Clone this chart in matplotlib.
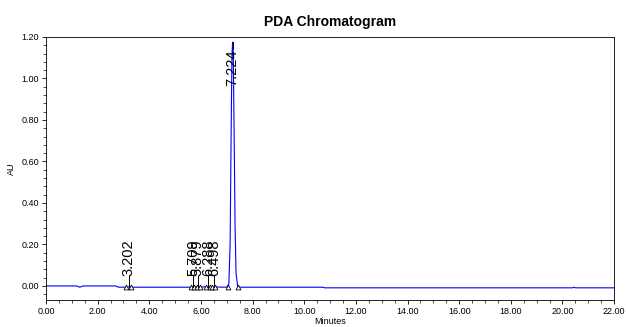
import numpy as np
import matplotlib.pyplot as plt
from matplotlib.ticker import MultipleLocator, FormatStrFormatter

plt.rcParams['font.family'] = ['Liberation Sans', 'DejaVu Sans']

# trace (minutes, AU)
t = [0.0, 1.2, 1.3, 1.35, 1.45, 1.6, 2.7, 2.8, 3.15, 3.2, 3.25, 5.7, 5.8, 5.88, 6.29, 6.49,
     7.0, 7.08, 7.13, 7.17, 7.2, 7.224, 7.25, 7.28, 7.32, 7.36, 7.42, 7.5, 10.7, 10.8,
     20.4, 20.45, 20.5, 20.6, 22.0]
au = [0.0, 0.0, -0.006, -0.004, 0.0, 0.0, 0.0, -0.006, -0.006, -0.004, -0.006, -0.006, -0.005,
      -0.005, -0.005, -0.005, -0.006, 0.01, 0.2, 0.75, 1.1, 1.175, 1.12, 0.8, 0.3, 0.06, 0.0,
      -0.006, -0.006, -0.009, -0.009, -0.006, -0.009, -0.009, -0.009]

peak_rt = [3.202, 5.709, 5.879, 6.288, 6.498, 7.224]
peak_lbl = ["3.202", "5.709", "5.879", "6.288", "6.498", "7.224"]
peak_top = [-0.005, -0.005, -0.005, -0.005, -0.005, 1.175]
tri_x = [3.1, 3.3, 5.62, 5.75, 5.83, 5.95, 6.2, 6.35, 6.43, 6.55, 7.03, 7.42]

fig = plt.figure(figsize=(6.26, 3.27), dpi=100)
ax = fig.add_axes([0.0735, 0.083, 0.9075, 0.804])

ax.plot(t, au, color="#0000ff", lw=0.8)
ax.plot(tri_x, [-0.006] * len(tri_x), ls="none", marker="^", mfc="white", mec="black",
        ms=3.5, mew=0.6)

for rt, lbl, top in zip(peak_rt, peak_lbl, peak_top):
    if top > 0.5:
        ax.plot([rt, rt], [top, 1.14], color="black", lw=0.7)
        ax.text(rt, 1.14, lbl, rotation=90, ha="center", va="top", fontsize=10.5)
    else:
        ax.plot([rt, rt], [top, 0.05], color="black", lw=0.7)
        ax.text(rt, 0.05, lbl, rotation=90, ha="center", va="bottom", fontsize=10.5)

ax.set_xlim(0, 22)
ax.set_ylim(-0.067, 1.2)
ax.xaxis.set_major_locator(MultipleLocator(2))
ax.xaxis.set_minor_locator(MultipleLocator(0.5))
ax.yaxis.set_major_locator(MultipleLocator(0.2))
ax.yaxis.set_minor_locator(MultipleLocator(0.04))
ax.xaxis.set_major_formatter(FormatStrFormatter("%.2f"))
ax.yaxis.set_major_formatter(FormatStrFormatter("%.2f"))
ax.tick_params(labelsize=6.5, length=3, width=0.6, pad=2)
ax.tick_params(which="minor", length=2, width=0.5)
for s in ax.spines.values():
    s.set_linewidth(0.6)

ax.set_xlabel("Minutes", fontsize=6.5, labelpad=1)
ax.set_ylabel("AU", fontsize=6.5, labelpad=4)
ax.set_title("PDA Chromatogram", fontsize=10, fontweight="bold", pad=8)

fig.savefig("out.png", dpi=100)
